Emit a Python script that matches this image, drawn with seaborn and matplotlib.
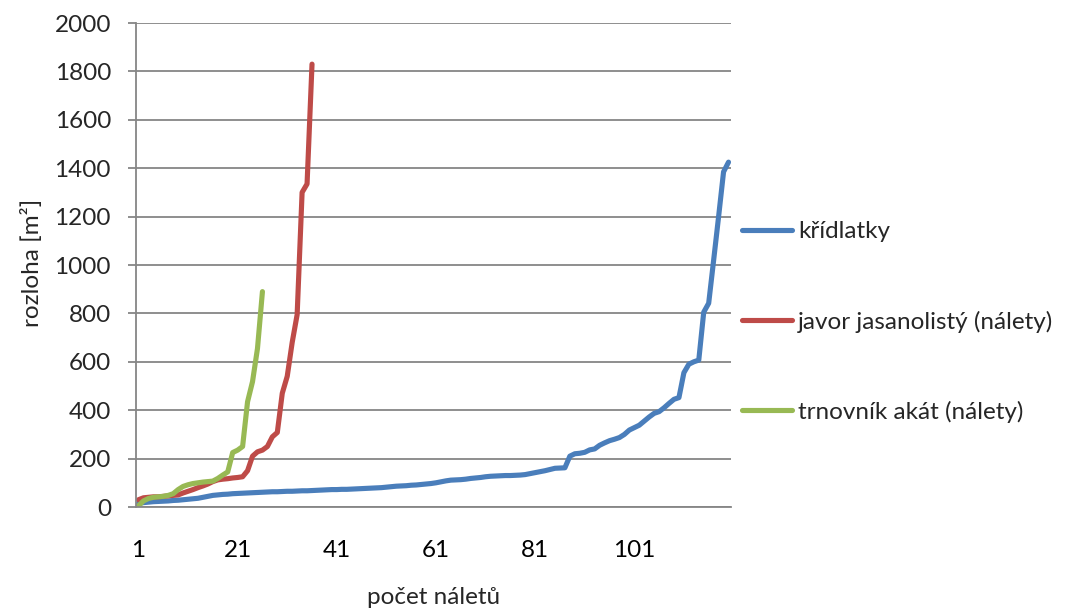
import numpy as np
import pandas as pd
import seaborn as sns
import matplotlib.pyplot as plt

# values (sorted areas per plot)
kridlatky = [15, 18, 20, 22, 23, 24, 25, 27, 28, 30,
             32, 34, 36, 40, 44, 48, 50, 52, 53, 55,
             56, 57, 58, 59, 60, 61, 62, 63, 63, 64,
             65, 65, 66, 67, 67, 68, 69, 70, 71, 72,
             72, 73, 73, 74, 75, 76, 77, 78, 79, 80,
             82, 84, 86, 87, 88, 90, 91, 93, 95, 97,
             100, 104, 108, 111, 112, 113, 115, 118, 120, 122,
             125, 127, 128, 129, 130, 130, 131, 132, 134, 138,
             142, 146, 150, 155, 160, 161, 162, 210, 220, 222,
             226, 236, 240, 255, 265, 274, 280, 287, 300, 318,
             328, 338, 355, 372, 387, 394, 410, 428, 445, 452,
             555, 590, 600, 607, 805, 842, 1020, 1200, 1385, 1425]
javor = [30, 38, 40, 42, 42, 44, 46, 48, 50, 58,
         65, 72, 80, 87, 95, 105, 112, 115, 117, 120,
         122, 125, 150, 210, 228, 235, 250, 290, 308, 470,
         540, 680, 795, 1300, 1335, 1830]
trnovnik = [5, 25, 35, 40, 42, 44, 48, 55, 72, 85,
            92, 97, 100, 103, 105, 107, 118, 132, 145, 225,
            235, 250, 435, 518, 655, 890]

series_names = ["křídlatky", "javor jasanolistý (nálety)", "trnovník akát (nálety)"]
series_values = [kridlatky, javor, trnovnik]
colors = ["#4A7EBB", "#BE4B48", "#98B954"]
x_labels = [1, 21, 41, 61, 81, 101]

rows = []
for name, vals in zip(series_names, series_values):
    for i, v in enumerate(vals):
        rows.append({"n": i + 1, "rozloha": v, "serie": name})
df = pd.DataFrame(rows)

sns.set_style("white")
plt.rcParams['font.family'] = ['Lato', 'DejaVu Sans']
fs = 17.5

fig = plt.figure(figsize=(10.71, 6.15), dpi=100)
ax = fig.add_axes([136 / 1071, 108 / 615, 595 / 1071, 484 / 615])

sns.lineplot(data=df, x="n", y="rozloha", hue="serie", hue_order=series_names,
             palette=colors, linewidth=3.7, ax=ax,
             solid_capstyle="round", solid_joinstyle="round")

grid_col = "#868686"
ax.set_xlim(0.5, 120.5)
ax.set_ylim(0, 2000)
ax.set_yticks(np.arange(0, 2001, 200))
ax.yaxis.grid(True, color=grid_col, linewidth=1.3)
ax.xaxis.grid(False)
ax.set_axisbelow(True)

# tick marks between categories, labels on the categories
ax.set_xticks(np.arange(0.5, 121, 10))
ax.set_xticklabels([])
ax.set_xticks(x_labels, minor=True)
ax.set_xticklabels([str(v) for v in x_labels], minor=True)
ax.tick_params(axis="x", which="major", length=6, width=1.3, color=grid_col, direction="out")
ax.tick_params(axis="x", which="minor", length=0, pad=24, labelsize=fs, labelcolor="black")
ax.tick_params(axis="y", length=6, width=1.3, color=grid_col, direction="out",
               pad=12, labelsize=fs, left=True)

for side in ["top", "right"]:
    ax.spines[side].set_visible(False)
for side in ["left", "bottom"]:
    ax.spines[side].set_color(grid_col)
    ax.spines[side].set_linewidth(1.3)

ax.set_xlabel("počet náletů", fontsize=fs)
ax.set_ylabel("rozloha [m²]", fontsize=fs)
ax.xaxis.set_label_coords(0.5, -0.166)
ax.yaxis.set_label_coords(-0.157, 0.505)

sns.move_legend(ax, loc="center left", bbox_to_anchor=(742 / 1071, (615 - 322) / 615),
                bbox_transform=fig.transFigure, frameon=False, title=None,
                fontsize=fs, labelspacing=2.8, handlelength=2.05, handletextpad=0.25,
                borderpad=0, borderaxespad=0)
for line in ax.get_legend().get_lines():
    line.set_linewidth(3.7)
    line.set_solid_capstyle("round")

plt.savefig("out.png", dpi=100)
plt.close()
